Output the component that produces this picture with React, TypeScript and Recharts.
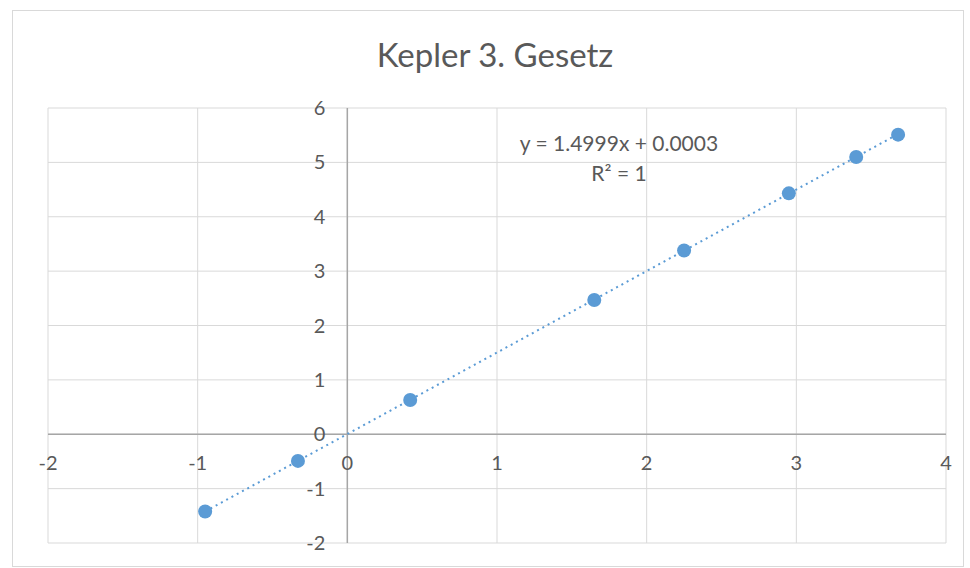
import {
  ScatterChart,
  Scatter,
  XAxis,
  YAxis,
  CartesianGrid,
  ReferenceLine,
  ReferenceDot,
} from 'recharts';

// ln(a) vs ln(T) of the planets
const LN_A = [-0.95, -0.33, 0.42, 1.65, 2.25, 2.95, 3.4, 3.68];
const LN_T = [-1.42, -0.49, 0.63, 2.47, 3.38, 4.43, 5.1, 5.51];

// linear trendline end points
const TREND_X = [-0.95, 3.68];
const TREND_Y = [-1.42, 5.52];

const X_TICKS = [-2, -1, 0, 1, 2, 3, 4];
const Y_TICKS = [-2, -1, 0, 1, 2, 3, 4, 5, 6];

const TITLE = 'Kepler 3. Gesetz';
const EQUATION = 'y = 1.4999x + 0.0003';
const R_SQUARED = 'R² = 1';

const BLUE = '#5b9bd5';
const GRID = '#d9d9d9';
const AXIS = '#a6a6a6';
const TEXT = '#595959';
const FONT = 'Lato, "Open Sans", sans-serif';

const points = LN_A.map((x, i) => ({ x, y: LN_T[i] }));
const trend = TREND_X.map((x, i) => ({ x, y: TREND_Y[i] }));

const Dot = (props: any) => <circle cx={props.cx} cy={props.cy} r={7} fill={BLUE} />;

export default function App() {
  return (
    <div
      style={{
        position: 'absolute',
        left: 0,
        top: 0,
        width: 970,
        height: 568,
        background: '#fff',
        fontFamily: FONT,
      }}
    >
      <div
        style={{
          position: 'absolute',
          left: 12,
          top: 10,
          width: 950,
          height: 555,
          border: `1px solid ${GRID}`,
        }}
      />
      <div
        style={{
          position: 'absolute',
          left: 0,
          width: 990,
          top: 34,
          textAlign: 'center',
          fontSize: 33,
          color: TEXT,
        }}
      >
        {TITLE}
      </div>
      <div style={{ position: 'absolute', left: 0, top: 0 }}>
        <ScatterChart width={970} height={568} margin={{ top: 108, right: 24, bottom: 25, left: 48 }}>
          <CartesianGrid stroke={GRID} strokeWidth={1} />
          <XAxis type="number" dataKey="x" domain={[-2, 4]} ticks={X_TICKS} hide />
          <YAxis type="number" dataKey="y" domain={[-2, 6]} ticks={Y_TICKS} hide />
          <ReferenceLine x={0} stroke={AXIS} strokeWidth={1.5} />
          <ReferenceLine y={0} stroke={AXIS} strokeWidth={1.5} />
          {X_TICKS.map((t) => (
            <ReferenceDot
              key={`x${t}`}
              x={t}
              y={0}
              r={0}
              fill="none"
              stroke="none"
              label={{ value: String(t), position: 'bottom', offset: 22, fill: TEXT, fontSize: 20, fontFamily: FONT }}
            />
          ))}
          {Y_TICKS.map((t) => (
            <ReferenceDot
              key={`y${t}`}
              x={0}
              y={t}
              r={0}
              fill="none"
              stroke="none"
              label={{ value: String(t), position: 'left', offset: 22, fill: TEXT, fontSize: 20, fontFamily: FONT }}
            />
          ))}
          <Scatter
            data={trend}
            line={{ stroke: BLUE, strokeWidth: 2, strokeDasharray: '2 4' }}
            shape={() => <g />}
            isAnimationActive={false}
          />
          <Scatter data={points} shape={Dot} isAnimationActive={false} />
        </ScatterChart>
      </div>
      <div
        style={{
          position: 'absolute',
          left: 499,
          width: 240,
          top: 128,
          textAlign: 'center',
          fontSize: 21,
          lineHeight: '30px',
          color: TEXT,
        }}
      >
        <div>{EQUATION}</div>
        <div>{R_SQUARED}</div>
      </div>
    </div>
  );
}
